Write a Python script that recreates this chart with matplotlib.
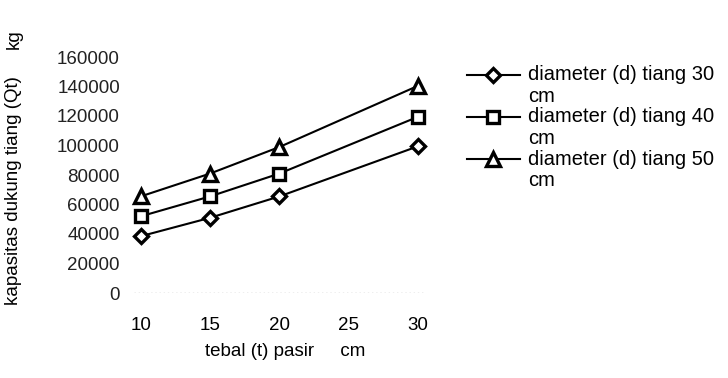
import matplotlib
matplotlib.use("Agg")
from matplotlib import pyplot as plt
from matplotlib.lines import Line2D

plt.rcParams['font.family'] = ['Liberation Sans', 'DejaVu Sans']

# tebal pasir (cm)
tebal = [10, 15, 20, 30]
xticks = [10, 15, 20, 25, 30]
yticks = [0, 20000, 40000, 60000, 80000, 100000, 120000, 140000, 160000]

# kapasitas dukung tiang (kg) per diameter
qt_d30 = [38500, 51000, 65500, 99500]
qt_d40 = [52000, 65500, 81000, 119500]
qt_d50 = [65500, 81000, 99000, 140500]

labels = ["diameter (d) tiang 30\ncm",
          "diameter (d) tiang 40\ncm",
          "diameter (d) tiang 50\ncm"]
markers = ["D", "s", "^"]
msizes = [7.5, 8.5, 9.5]


def main():
    fig = plt.figure(figsize=(7.28, 3.78), dpi=100)
    ax = fig.add_axes([120 / 728, 1 - 293 / 378, 312 / 728, (293 - 57) / 378])

    for ys, m, ms in zip([qt_d30, qt_d40, qt_d50], markers, msizes):
        ax.plot(tebal, ys, color="black", lw=1.5, marker=m, markersize=ms,
                markerfacecolor="white", markeredgecolor="black", markeredgewidth=2.4)

    # faint dotted base line
    ax.plot([9.5, 30.5], [0, 0], color="#aaaaaa", lw=1, ls=(0, (1, 2)))

    ax.set_xlim(8.5, 31)
    ax.set_ylim(0, 160000)
    ax.set_xticks(xticks)
    ax.set_yticks(yticks)
    ax.set_xticklabels([str(v) for v in xticks], fontsize=13.5)
    ax.set_yticklabels([str(v) for v in yticks], fontsize=13.5, color="#222222")
    for s in ax.spines.values():
        s.set_visible(False)
    ax.tick_params(axis="x", length=0, pad=17)
    ax.tick_params(axis="y", length=0, pad=0)

    fig.text(14 / 728, 1 - 191 / 378, "kapasitas dukung tiang (Qt)", rotation=90,
             ha="center", va="center", fontsize=13.5)
    fig.text(14 / 728, 1 - 39 / 378, "kg", rotation=90, ha="center", va="center", fontsize=13.5)
    fig.text(285 / 728, 1 - 352 / 378, "tebal (t) pasir     cm", ha="center", va="center",
             fontsize=13.5)

    # legend, drawn by hand so the handle sits on the first text line
    rows = [75, 117, 159]
    for lab, m, ms, yr in zip(labels, markers, msizes, rows):
        yf = 1 - yr / 378
        fig.add_artist(Line2D([467 / 728, 520 / 728], [yf, yf], color="black", lw=1.5,
                              transform=fig.transFigure))
        fig.add_artist(Line2D([493 / 728], [yf], marker=m, markersize=ms,
                              markerfacecolor="white", markeredgecolor="black",
                              markeredgewidth=2.4, transform=fig.transFigure))
        first, second = lab.split("\n")
        fig.text(528 / 728, yf, first, ha="left", va="center", fontsize=14.5)
        fig.text(528 / 728, 1 - (yr + 21) / 378, second, ha="left", va="center", fontsize=14.5)

    fig.savefig("out.png", dpi=100)


if __name__ == "__main__":
    main()
